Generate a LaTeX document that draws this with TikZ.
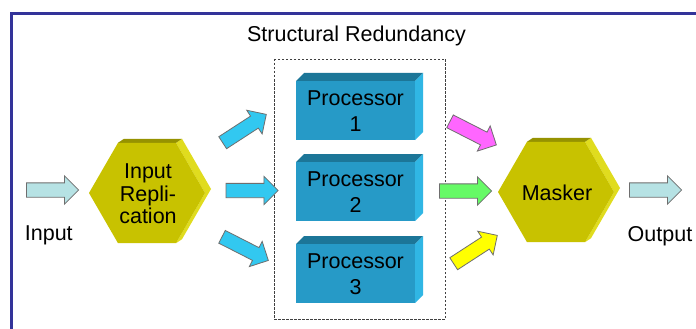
\documentclass[tikz,border=0pt]{standalone}
\usepackage{fontspec}
\setmainfont{Liberation Sans}
\usetikzlibrary{shapes.arrows}

\definecolor{frameblue}{RGB}{51,51,153}
\definecolor{hexfront}{RGB}{200,194,0}
\definecolor{hextop}{RGB}{150,146,0}
\definecolor{hexside}{RGB}{224,220,30}
\definecolor{procfront}{RGB}{38,154,199}
\definecolor{proctop}{RGB}{28,118,152}
\definecolor{procside}{RGB}{48,182,228}
\definecolor{arrowline}{RGB}{110,110,110}
\definecolor{arrowpale}{RGB}{182,226,228}
\definecolor{arrowblue}{RGB}{50,200,240}
\definecolor{arrowpink}{RGB}{255,102,255}
\definecolor{arrowgreen}{RGB}{102,250,102}
\definecolor{arrowyellow}{RGB}{255,255,0}

\tikzset{
  blockarrow/.style={single arrow, draw=arrowline, line width=0.8pt,
    inner sep=0pt, inner ysep=6.75pt, minimum width=28pt,
    single arrow head extend=7pt, minimum height=52pt},
  plaintext/.style={font=\fontsize{21.5}{24}\selectfont, anchor=base, inner sep=0pt},
  hextext/.style={font=\fontsize{21.5}{22.5}\selectfont, align=center, inner sep=0pt},
  proctext/.style={font=\fontsize{21.5}{26}\selectfont, align=center, inner sep=0pt},
  groupbox/.style={draw=black!75, line width=0.9pt, dash pattern=on 2.5pt off 1.5pt},
}

% extruded hexagon: name, centre x, centre y, text
\newcommand\hexblock[4]{%
  \begin{scope}[shift={(#2,#3)}]
    \fill[hexside] (29,-50.2) -- (35,-54.2) -- (64,-4) -- (35,46.2) -- (29,50.2) -- (58,0) -- cycle;
    \fill[hextop] (-29,-50.2) -- (-23,-54.2) -- (35,-54.2) -- (29,-50.2) -- cycle;
    \fill[hexfront] (-58,0) -- (-29,-50.2) -- (29,-50.2) -- (58,0) -- (29,50.2) -- (-29,50.2) -- cycle;
    \node[hextext] (#1) at (1,1) {#4};
  \end{scope}}

% extruded processor block: name, left x, top y, text
\newcommand\procblock[4]{%
  \fill[proctop] (#2,#3) -- ++(8,-8) -- ++(119,0) -- ++(-8,8) -- cycle;
  \fill[procside] (#2+119,#3) -- ++(8,-8) -- ++(0,59) -- ++(-8,8) -- cycle;
  \fill[procfront] (#2,#3) rectangle ++(119,59);
  \node[proctext] (#1) at (#2+59.5,#3+30) {#4};}

\begin{document}
\begin{tikzpicture}[x=1pt,y=-1pt]
  \useasboundingbox (0,0) rectangle (696,329);
  \fill[white] (0,0) rectangle (696,329);

  % page frame
  \draw[frameblue, line width=3pt] (11.3,330) -- (11.3,13.3) -- (697,13.3);

  % redundancy group
  \node[plaintext] (title) at (356.5,42) {Structural Redundancy};
  \draw[groupbox] (274,59) rectangle (445,319);

  \procblock{p1}{296}{81}{Processor\\1}
  \procblock{p2}{296}{162}{Processor\\2}
  \procblock{p3}{296}{244}{Processor\\3}

  \hexblock{repl}{147}{193}{Input\\Repli-\\cation}
  \hexblock{mask}{556}{192}{Masker}

  % input and output
  \node[blockarrow, fill=arrowpale] (inarrow) at (49,190) {};
  \node[plaintext] (inlabel) at (48.8,240) {Input};
  \node[blockarrow, fill=arrowpale] (outarrow) at (652,190) {};
  \node[plaintext] (outlabel) at (660,241) {Output};

  % fan-out
  \node[blockarrow, fill=arrowblue, rotate=33] (fan1) at (241.5,130.5) {};
  \node[blockarrow, fill=arrowblue] (fan2) at (248.5,190.5) {};
  \node[blockarrow, fill=arrowblue, rotate=-27] (fan3) at (242,247) {};

  % fan-in
  \node[blockarrow, fill=arrowpink, rotate=-27] (vote1) at (470,131.5) {};
  \node[blockarrow, fill=arrowgreen] (vote2) at (462,191) {};
  \node[blockarrow, fill=arrowyellow, rotate=33] (vote3) at (472.5,251.5) {};
\end{tikzpicture}
\end{document}
